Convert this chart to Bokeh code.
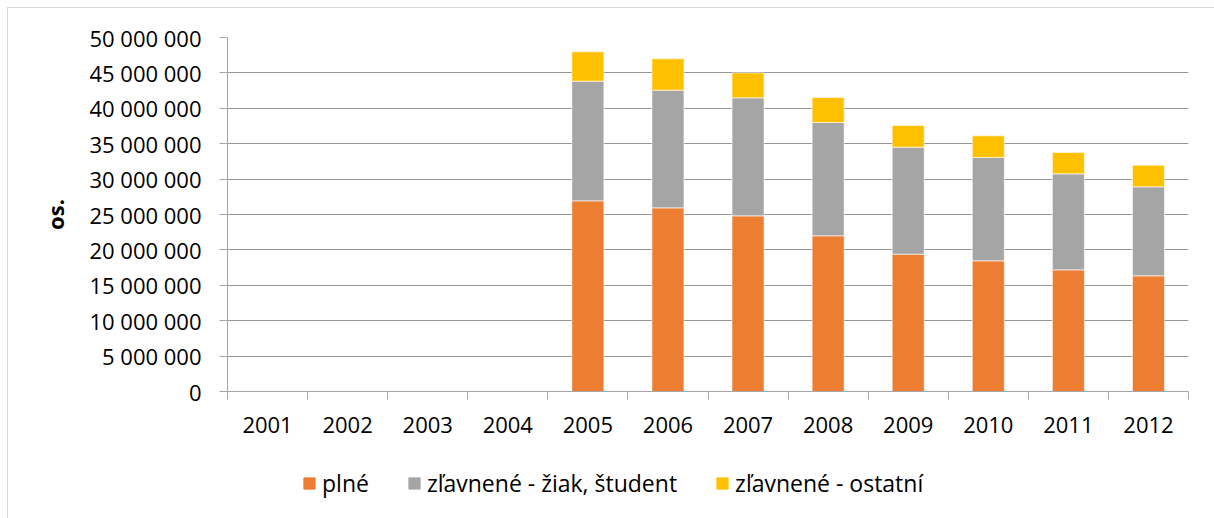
import math
from bokeh.plotting import figure
from bokeh.models import ColumnDataSource, FixedTicker, Legend, LegendItem
from bokeh.layouts import column
from bokeh.embed import file_html
from bokeh.resources import INLINE

nan = float("nan")

years = ["2001", "2002", "2003", "2004", "2005", "2006",
         "2007", "2008", "2009", "2010", "2011", "2012"]
# millions of passengers
plne = [nan, nan, nan, nan, 26.93, 25.94, 24.81, 21.99, 19.40, 18.46, 17.18, 16.34]
ziak_student = [nan, nan, nan, nan, 16.90, 16.62, 16.67, 16.00, 15.11, 14.59, 13.56, 12.57]
ostatne = [nan, nan, nan, nan, 4.15, 4.43, 3.52, 3.54, 3.06, 3.06, 3.02, 3.05]

series_names = ["plné", "zľavnené - žiak, študent", "zľavnené - ostatní"]
colors = ["#ED7D31", "#A5A5A5", "#FFC000"]
y_ticks = [i * 5_000_000 for i in range(11)]

FONT = "Open Sans"
FS = "22px"

src = ColumnDataSource(dict(
    x=[i + 1 for i in range(len(years))],
    plne=[v * 1e6 for v in plne],
    ziak=[v * 1e6 for v in ziak_student],
    ost=[v * 1e6 for v in ostatne],
))

W = 1206
H1 = 443
H2 = 67

p = figure(width=W, height=H1, output_backend="svg", toolbar_location=None,
           x_range=(0.5, len(years) + 0.5), y_range=(0, 50_000_000))
p.min_border_left = 219
p.min_border_right = 26
p.min_border_top = 29
p.min_border_bottom = H1 - 29 - 354
p.outline_line_color = None
p.background_fill_color = "white"
p.border_fill_color = "white"

rs = p.vbar_stack(["plne", "ziak", "ost"], x="x", width=0.4, source=src,
                  color=colors, line_color="white", line_alpha=0.6, line_width=1)

# x axis
xa = p.xaxis[0]
xa.ticker = FixedTicker(ticks=[i + 1 for i in range(len(years))],
                        minor_ticks=[i + 0.5 for i in range(len(years) + 1)])
xa.major_label_overrides = {i + 1: y for i, y in enumerate(years)}
xa.major_tick_out = 0
xa.major_tick_in = 0
xa.minor_tick_out = 8
xa.minor_tick_in = 0
xa.minor_tick_line_color = "#a6a6a6"
xa.axis_line_color = "#a6a6a6"
xa.major_label_text_font = FONT
xa.major_label_text_font_size = FS
xa.major_label_text_color = "black"
xa.major_label_standoff = 17
p.xgrid.grid_line_color = None

# y axis
ya = p.yaxis[0]
ya.ticker = FixedTicker(ticks=y_ticks)
ya.major_label_overrides = {t: f"{t:,}".replace(",", " ") for t in y_ticks}
ya.major_tick_out = 8
ya.major_tick_in = 0
ya.minor_tick_line_color = None
ya.major_tick_line_color = "#a6a6a6"
ya.axis_line_color = "#a6a6a6"
ya.major_label_text_font = FONT
ya.major_label_text_font_size = FS
ya.major_label_text_color = "black"
ya.major_label_standoff = 18
ya.axis_label = "os."
ya.axis_label_text_font = FONT
ya.axis_label_text_font_size = FS
ya.axis_label_text_font_style = "bold"
ya.axis_label_text_color = "black"
ya.axis_label_standoff = 16
p.ygrid.grid_line_color = "#959595"
p.ygrid.ticker = FixedTicker(ticks=y_ticks)

# legend strip (its frame is aligned with the main plot's frame by the column)
q = figure(width=W, height=H2, output_backend="svg", toolbar_location=None,
           x_range=(0, 1), y_range=(0, 1))
q.min_border_left = q.min_border_right = q.min_border_top = q.min_border_bottom = 0
q.outline_line_color = None
q.axis.visible = False
q.grid.grid_line_color = None
q.background_fill_color = "white"
q.border_fill_color = "white"
legend_src = ColumnDataSource(dict(x=[nan], top=[nan]))
swatches = [q.vbar(x="x", top="top", width=0.1, source=legend_src, color=c) for c in colors]

legend = Legend(items=[LegendItem(label=n, renderers=[r]) for n, r in zip(series_names, swatches)],
                orientation="horizontal", location=(75, 19))
legend.border_line_color = None
legend.background_fill_alpha = 0
legend.glyph_width = 14
legend.glyph_height = 14
legend.label_standoff = 6
legend.spacing = 38
legend.padding = 0
legend.margin = 0
legend.label_text_font = FONT
legend.label_text_font_size = "23px"
legend.label_text_color = "black"
q.add_layout(legend)

layout = column(p, q, spacing=0)
layout.styles = {"margin-left": "7px", "margin-top": "7px",
                 "border-left": "1px solid #d9d9d9", "border-top": "1px solid #d9d9d9"}

open("out.html", "w").write(file_html(layout, INLINE))
